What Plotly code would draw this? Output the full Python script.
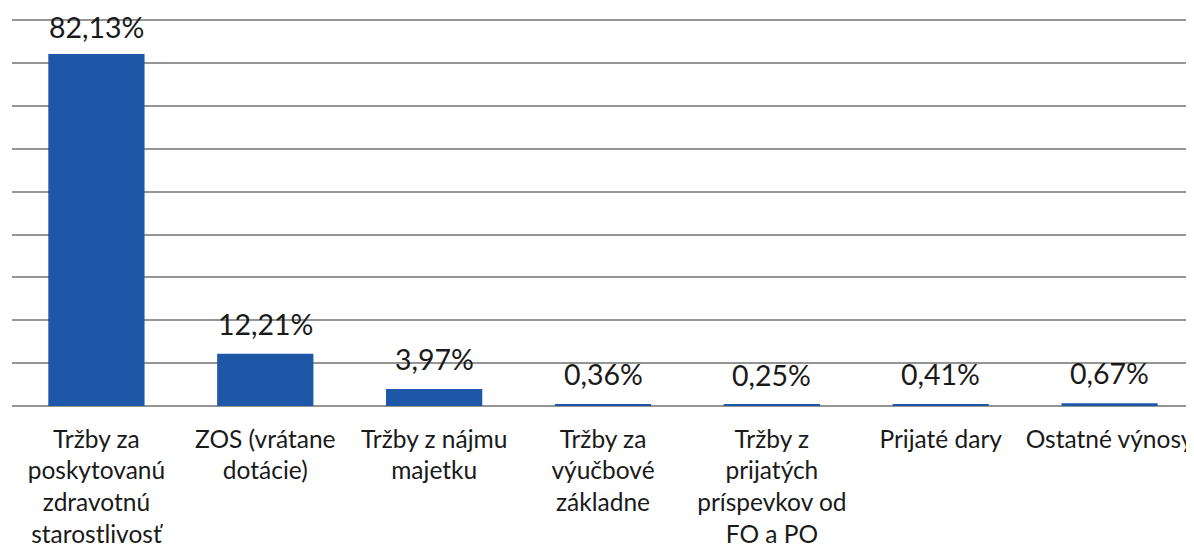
import plotly.graph_objects as go

categories = [
    "Tržby za<br>poskytovanú<br>zdravotnú<br>starostlivosť",
    "ZOS (vrátane<br>dotácie)",
    "Tržby z nájmu<br>majetku",
    "Tržby za<br>výučbové<br>základne",
    "Tržby z<br>prijatých<br>príspevkov od<br>FO a PO",
    "Prijaté dary",
    "Ostatné výnosy",
]
values = [82.13, 12.21, 3.97, 0.36, 0.25, 0.41, 0.67]

FONT = "Lato"
BAR = "#1F57A8"
GRID = "#959595"
TXT = "#1a1a1a"

fig = go.Figure(
    go.Bar(
        x=categories,
        y=values,
        marker=dict(color=BAR, line=dict(width=0)),
        cliponaxis=False,
    )
)

for c, v in zip(categories, values):
    fig.add_annotation(
        x=c,
        y=v,
        text=f"{v:.2f}%".replace(".", ","),
        showarrow=False,
        yanchor="middle",
        yshift=27 if v > 50 else 30,
        font=dict(family=FONT, size=28.5, color=TXT),
    )

# note: the page body has an 8px default margin, so the figure is sized to fit
fig.update_layout(
    width=1186,
    height=539,
    margin=dict(l=4, r=0, t=10, b=141, autoexpand=False),
    paper_bgcolor="white",
    plot_bgcolor="white",
    bargap=0.43,
    showlegend=False,
    font=dict(family=FONT, size=24.5, color=TXT),
)
fig.update_xaxes(
    showline=False,
    ticks="",
    automargin=False,
    ticklabelstandoff=16,
    tickfont=dict(family=FONT, size=24.5, color=TXT),
    tickangle=0,
)
fig.update_yaxes(
    range=[0, 90.5],
    dtick=10,
    automargin=False,
    showticklabels=False,
    showgrid=True,
    gridcolor=GRID,
    gridwidth=1.5,
    zeroline=True,
    zerolinecolor=GRID,
    zerolinewidth=1.5,
)

fig.write_html("out.html")
